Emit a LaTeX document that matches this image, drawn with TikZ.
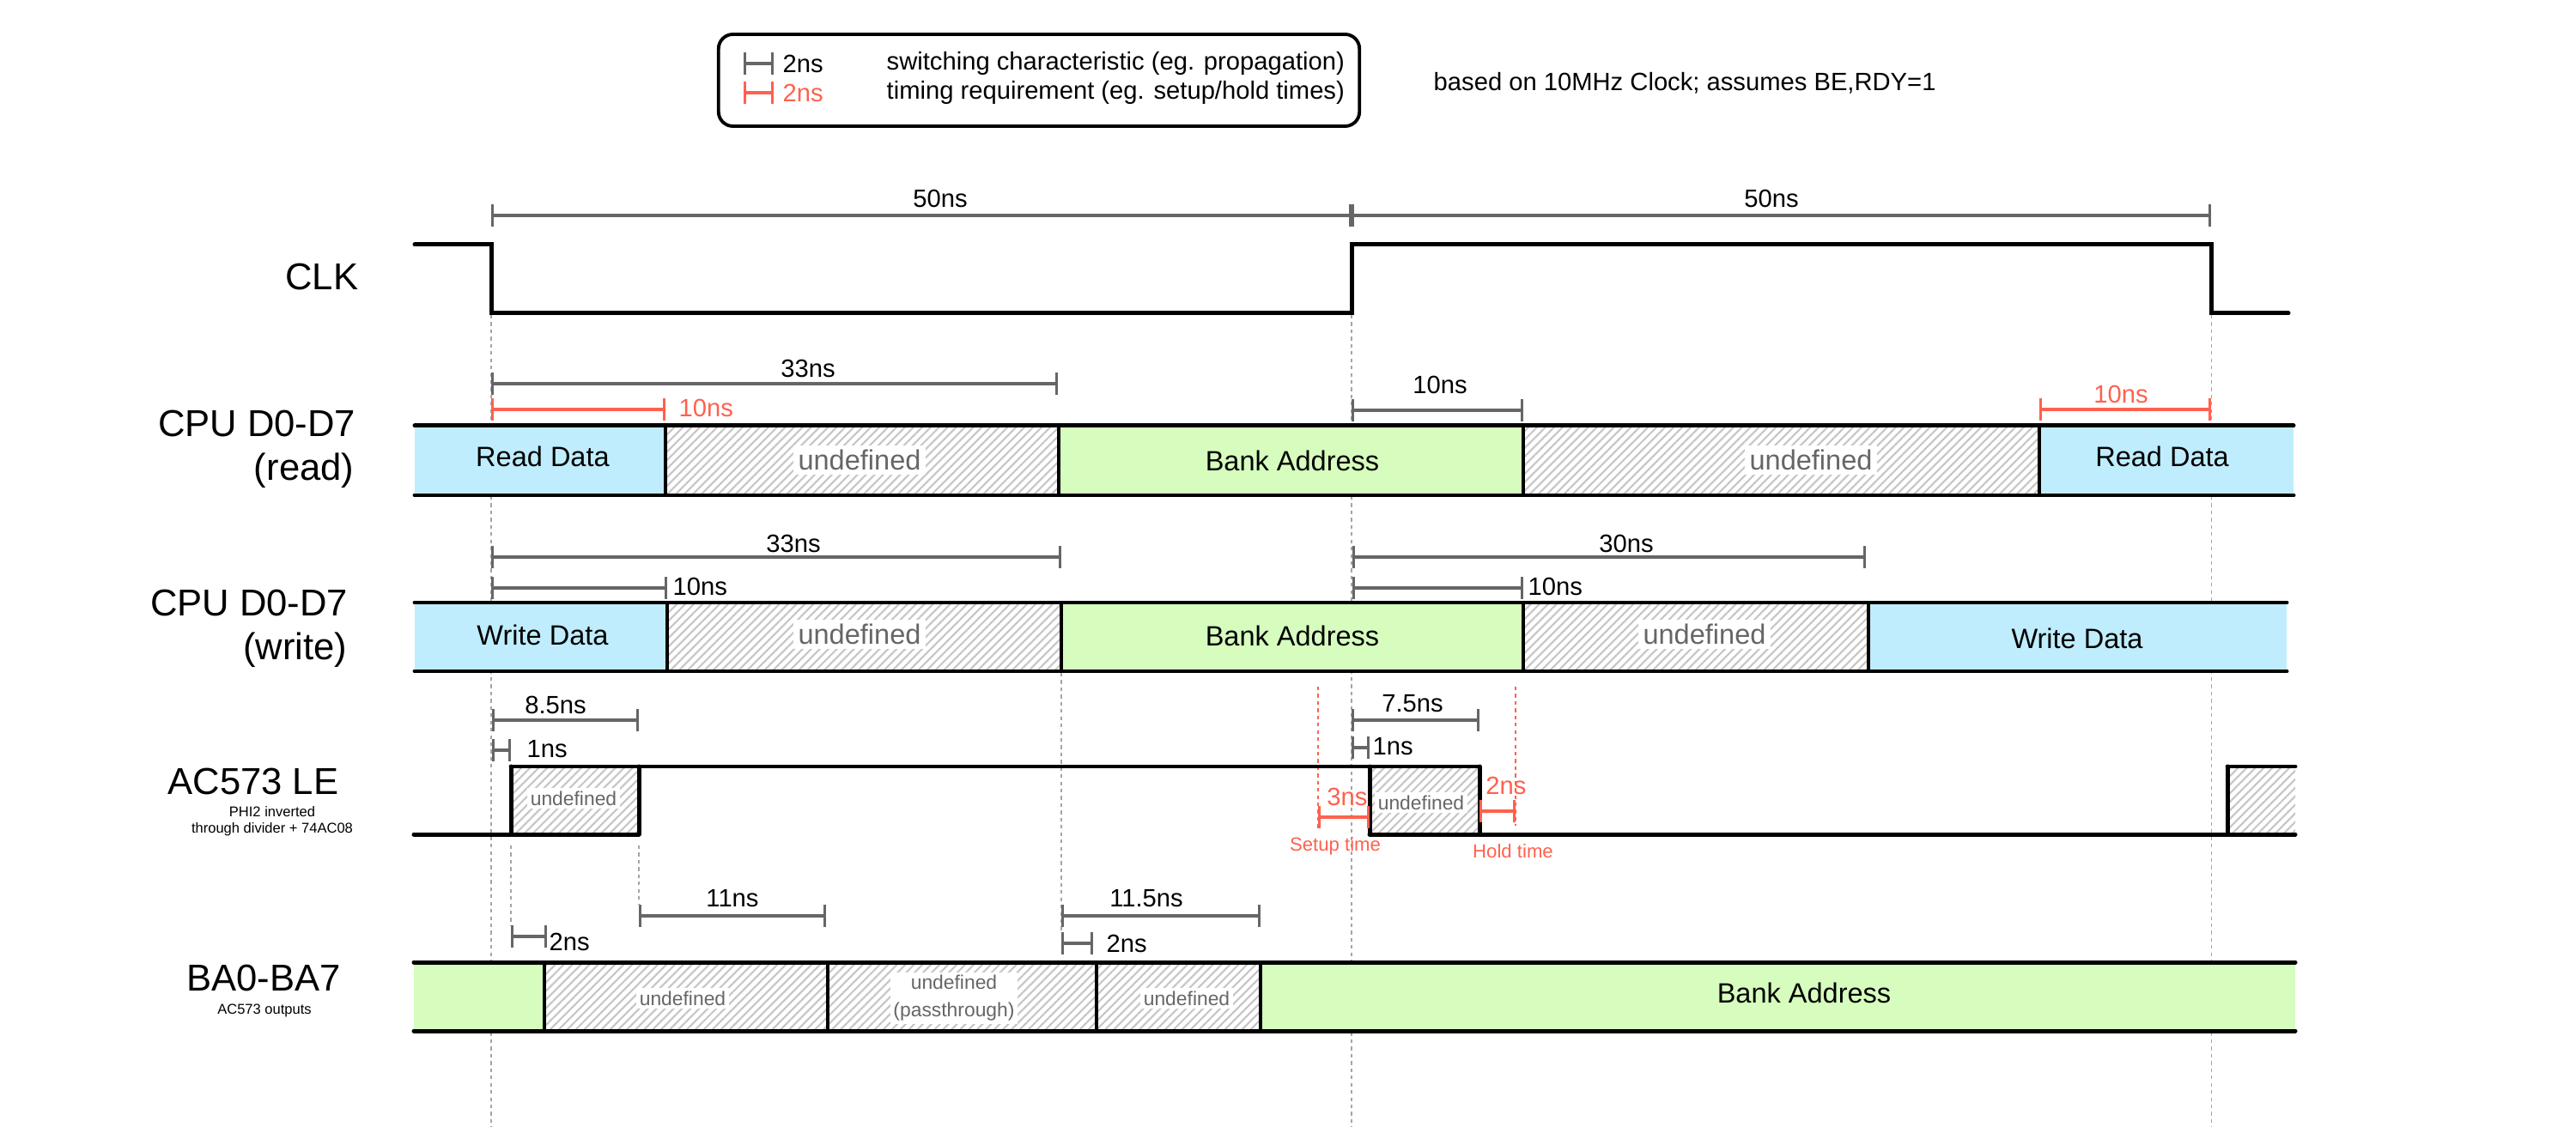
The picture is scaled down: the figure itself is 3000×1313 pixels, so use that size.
\documentclass[tikz,border=0pt]{standalone}
\usepackage{fontspec}
\setmainfont{Liberation Sans}
\usepackage{tikz}
\usetikzlibrary{arrows.meta,patterns.meta,positioning}

\definecolor{dimgray}{RGB}{102,102,102}
\definecolor{reqred}{RGB}{255,97,78}
\definecolor{busblue}{RGB}{191,237,253}
\definecolor{busgreen}{RGB}{214,253,190}
\definecolor{guidegray}{RGB}{165,165,165}

\begin{document}
\begin{tikzpicture}[x=0.01cm,y=-0.01cm]
          %% timing diagram, coordinates in pixels from top left

          \tikzstyle{sig}=[line width=1.42pt, line cap=round]
          \tikzstyle{divider}=[line width=1.1pt]
          \tikzstyle{guide}=[draw=guidegray, line width=0.3pt, dash pattern=on 1.2pt off 1.2pt]
          \tikzstyle{reqguide}=[guide, draw=reqred]
          \tikzstyle{dimln}=[draw=dimgray, line width=1.15pt, {Bar[width=7.2pt,line width=0.9pt]}-{Bar[width=7.2pt,line width=0.9pt]}]
          \tikzstyle{reqln}=[dimln, draw=reqred]
          \tikzstyle{dimtxt}=[inner sep=0pt, font=\fontsize{8.3}{10}\selectfont]
          \tikzstyle{reqtxt}=[dimtxt, text=reqred]
          \tikzstyle{reqnote}=[inner sep=0pt, text=reqred, font=\fontsize{6.3}{7.5}\selectfont]
          \tikzstyle{signame}=[inner sep=0pt, font=\fontsize{12.4}{14}\selectfont]
          \tikzstyle{signote}=[inner sep=0pt, align=center, font=\fontsize{4.7}{5.4}\selectfont]
          \tikzstyle{databox}=[fill=busblue]
          \tikzstyle{addrbox}=[fill=busgreen]
          \tikzstyle{undefbox}=[preaction={fill=white}, pattern={Lines[angle=45,distance=2pt,line width=0.6pt]}, pattern color=gray!45]
          \tikzstyle{bustxt}=[inner sep=0pt, font=\fontsize{9.25}{11}\selectfont]
          \tikzstyle{undeftxt}=[fill=white, text=dimgray, inner sep=1.5pt, font=\fontsize{9.25}{11}\selectfont]
          \tikzstyle{undefsmall}=[undeftxt, inner sep=1pt, align=center, font=\fontsize{6.5}{9.1}\selectfont]

          \useasboundingbox (0,0) rectangle (3000,1313);

          % legende
          \node[draw, line width=1.1pt, rounded corners=4.8pt, minimum width=7.46cm, minimum height=1.07cm] (legend) at (1210,93.5) {};
          \draw[dimln] (866,74) -- (901,74);
          \node[dimtxt, anchor=west] (lgsw) at (911,74) {2ns};
          \node[dimtxt, anchor=west] (lgswtxt) at (1032,74) {switching characteristic (eg. propagation)};
          \draw[reqln] (866,108) -- (901,108);
          \node[reqtxt, anchor=west] (lgreq) at (911,108) {2ns};
          \node[dimtxt, anchor=west] (lgreqtxt) at (1032,108) {timing requirement (eg. setup/hold times)};
          \node[dimtxt, anchor=west] (clknote) at (1669,97) {based on 10MHz Clock; assumes BE,RDY=1};

          % guides
          \foreach \x in {572,1574,2575} \draw[guide] (\x,367) -- (\x,1313);
          \draw[guide] (1236,784) -- (1236,1087);
          \draw[guide] (595,985) -- (595,1079);
          \draw[guide] (744,985) -- (744,1054);
          \draw[reqguide] (1535,800) -- (1535,965);
          \draw[reqguide] (1765,800) -- (1765,962);

          % signal names
          \node[signame, anchor=east] (clkname) at (418,322) {CLK};
          \node[signame, anchor=east] (rdname) at (415,493) {CPU D0-D7};
          \node[signame, anchor=east] (rdsub) at (413,548) {(read)};
          \node[signame, anchor=east] (wrname) at (406,702) {CPU D0-D7};
          \node[signame, anchor=east] (wrsub) at (405,757) {(write)};
          \node[signame] (lename) at (295,910) {AC573 LE};
          \node[signote] (lenote) at (317,957) {PHI2 inverted\\through divider + 74AC08};
          \node[signame] (baname) at (307,1139) {BA0-BA7};
          \node[signote] (banote) at (308,1177) {AC573 outputs};

          % CLK
          \draw[sig] (483,285) -- (572,285) -- (572,365) -- (1574,365) -- (1574,285) -- (2575,285) -- (2575,365) -- (2665,365);
          \draw[dimln] (572,251) -- (1574,251);
          \draw[dimln] (1574,251) -- (2575,251);
          \node[dimtxt] (clkp1) at (1095,231) {50ns};
          \node[dimtxt] (clkp2) at (2063,231) {50ns};

          % CPU D0-D7 read
          \path[databox] (483,496) rectangle (775,577);
          \path[undefbox] (775,496) rectangle (1233,577);
          \path[addrbox] (1233,496) rectangle (1774,577);
          \path[undefbox] (1774,496) rectangle (2375,577);
          \path[databox] (2375,496) rectangle (2671,577);
          \foreach \x in {775,1233,1774,2375} \draw[divider] (\x,496) -- (\x,577);
          \draw[sig] (483,496) -- (2671,496) (483,577) -- (2671,577);
          \node[bustxt] (rdd1) at (632,532) {Read Data};
          \node[undeftxt] (rdu1) at (1001,536) {undefined};
          \node[bustxt] (rda) at (1505,537) {Bank Address};
          \node[undeftxt] (rdu2) at (2109,536) {undefined};
          \node[bustxt] (rdd2) at (2518,532) {Read Data};

          \draw[dimln] (572,447) -- (1232,447);
          \node[dimtxt] (rd33) at (941,429) {33ns};
          \draw[reqln] (572,477) -- (775,477);
          \node[reqtxt, anchor=west] (rd10a) at (790,475) {10ns};
          \draw[dimln] (1574,478) -- (1774,478);
          \node[dimtxt] (rd10b) at (1677,448) {10ns};
          \draw[reqln] (2375,477) -- (2575,477);
          \node[reqtxt] (rd10c) at (2470,459) {10ns};

          % CPU D0-D7 write
          \path[databox] (483,702) rectangle (777,782);
          \path[undefbox] (777,702) rectangle (1236,782);
          \path[addrbox] (1236,702) rectangle (1774,782);
          \path[undefbox] (1774,702) rectangle (2176,782);
          \path[databox] (2176,702) rectangle (2663,782);
          \foreach \x in {777,1236,1774,2176} \draw[divider] (\x,702) -- (\x,782);
          \draw[sig] (483,702) -- (2663,702) (483,782) -- (2663,782);
          \node[bustxt] (wrd1) at (632,740) {Write Data};
          \node[undeftxt] (wru1) at (1001,739) {undefined};
          \node[bustxt] (wra) at (1505,741) {Bank Address};
          \node[undeftxt] (wru2) at (1985,739) {undefined};
          \node[bustxt] (wrd2) at (2419,744) {Write Data};

          \draw[dimln] (572,649) -- (1236,649);
          \node[dimtxt] (wr33) at (924,633) {33ns};
          \draw[dimln] (572,685) -- (777,685);
          \node[dimtxt, anchor=west] (wr10a) at (783,683) {10ns};
          \draw[dimln] (1575,649) -- (2173,649);
          \node[dimtxt] (wr30) at (1894,633) {30ns};
          \draw[dimln] (1575,685) -- (1774,685);
          \node[dimtxt, anchor=west] (wr10b) at (1779,683) {10ns};

          % AC573 LE
          \path[undefbox] (595,893) rectangle (744,972);
          \path[undefbox] (1595,893) rectangle (1723,972);
          \path[undefbox] (2594,893) rectangle (2673,972);
          \draw[sig] (482,972) -- (744,972);
          \draw[sig] (595,893) -- (1723,893);
          \draw[sig] (1595,972) -- (2673,972);
          \draw[sig] (2594,893) -- (2673,893);
          \foreach \x in {595,744,1595,1723,2594} \draw[sig] (\x,893) -- (\x,972);
          \node[undefsmall] (leu1) at (668,930) {undefined};
          \node[undefsmall] (leu2) at (1655,935) {undefined};

          \draw[dimln] (573,839) -- (744,839);
          \node[dimtxt] (le85) at (647,821) {8.5ns};
          \draw[dimln] (573,874) -- (595,874);
          \node[dimtxt, anchor=west] (le1a) at (613,873) {1ns};
          \draw[dimln] (1574,839) -- (1723,839);
          \node[dimtxt] (le75) at (1645,820) {7.5ns};
          \draw[dimln] (1574,871) -- (1595,871);
          \node[dimtxt, anchor=west] (le1b) at (1598,870) {1ns};
          \draw[reqln] (1535,952) -- (1595,952);
          \node[reqtxt] (setup) at (1569,928) {3ns};
          \draw[reqln] (1723,945) -- (1765,945);
          \node[reqtxt] (hold) at (1754,915) {2ns};
          \node[reqnote] (setuptxt) at (1555,986) {Setup time};
          \node[reqnote] (holdtxt) at (1762,992) {Hold time};

          % BA0-BA7
          \path[addrbox] (482,1121) rectangle (634,1201);
          \path[undefbox] (634,1121) rectangle (964,1201);
          \path[undefbox] (964,1121) rectangle (1277,1201);
          \path[undefbox] (1277,1121) rectangle (1468,1201);
          \path[addrbox] (1468,1121) rectangle (2673,1201);
          \foreach \x in {634,964,1277,1468} \draw[divider] (\x,1121) -- (\x,1201);
          \draw[sig] (482,1121) -- (2673,1121) (482,1201) -- (2673,1201);
          \node[undefsmall] (bau1) at (795,1163) {undefined};
          \node[undefsmall] (bau2) at (1111,1163) {undefined\\(passthrough)};
          \node[undefsmall] (bau3) at (1382,1163) {undefined};
          \node[bustxt] (baa) at (2101,1157) {Bank Address};

          \draw[dimln] (595,1091) -- (637,1091);
          \node[dimtxt, anchor=west] (ba2a) at (639,1097) {2ns};
          \draw[dimln] (744,1067) -- (962,1067);
          \node[dimtxt] (ba11) at (853,1047) {11ns};
          \draw[dimln] (1236,1067) -- (1468,1067);
          \node[dimtxt] (ba115) at (1335,1047) {11.5ns};
          \draw[dimln] (1236,1099) -- (1273,1099);
          \node[dimtxt, anchor=west] (ba2b) at (1288,1099) {2ns};

\end{tikzpicture}
\end{document}
